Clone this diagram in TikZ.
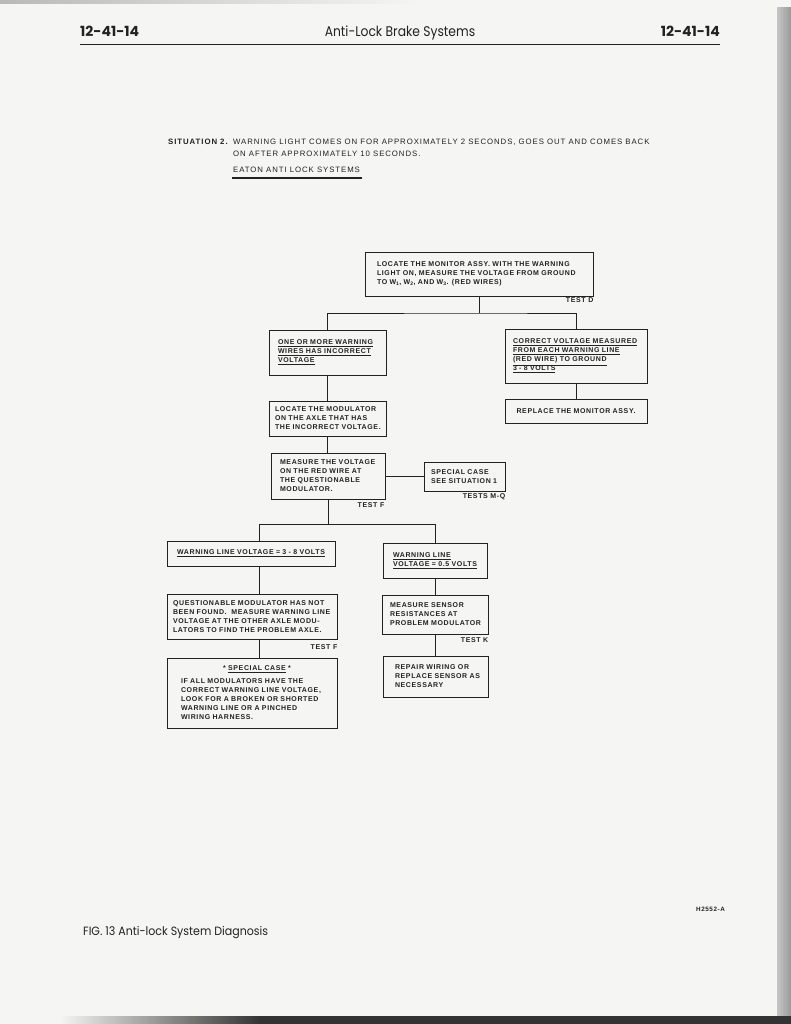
\documentclass[tikz,border=0pt]{standalone}
\usepackage{fontspec}
\setmainfont{Liberation Sans}
\newfontfamily\bxfont[LetterSpace=9]{Liberation Sans}
\newfontfamily\sitfont[LetterSpace=12]{Liberation Sans}
\newfontfamily\hdfont{Poppins}
\definecolor{ink}{RGB}{34,34,34}
\definecolor{pagebg}{RGB}{245,245,243}
\begin{document}
\begin{tikzpicture}[x=1pt,y=-1pt,
  bx/.style={draw=ink, line width=1pt, inner ysep=0pt, align=left, text=ink,
    font=\bxfont\bfseries\fontsize{7}{9}\selectfont},
  conn/.style={draw=ink, line width=1pt},
  tst/.style={anchor=north east, inner sep=0pt, text=ink, yshift=-2.5pt,
    font=\bxfont\bfseries\fontsize{7}{9}\selectfont},
  sit/.style={anchor=base west, inner sep=0pt, text=ink,
    font=\sitfont\fontsize{7.8}{12}\selectfont},
  hd/.style={inner sep=0pt, text=ink, font=\hdfont\bfseries\fontsize{14}{16}\selectfont},
]
\useasboundingbox (0,0) rectangle (791,1024);
% page and scan edges
\fill[pagebg] (0,0) rectangle (791,1024);
\shade[left color=gray!55, right color=pagebg] (0,0) rectangle (420,4);
\shade[left color=gray!45, right color=gray!80] (777,8) rectangle (791,1024);
\shade[left color=pagebg, right color=black!80] (60,1016) rectangle (260,1024);
\fill[black!80] (260,1016) rectangle (791,1024);

% header
\node[hd, anchor=base west] (hl) at (80,37) {12-41-14};
\node[hd, anchor=base, font=\hdfont\fontsize{14}{16}\selectfont] (ht) at (400,37)
  {\scalebox{0.88}[1]{Anti-Lock Brake Systems}};
\node[hd, anchor=base east] (hr) at (720,37) {12-41-14};
\draw[ink, line width=1.4pt] (hl.base west |- 0,44.5) -- (hr.base east |- 0,44.5);

% situation
\node[sit, font=\sitfont\bfseries\fontsize{7.8}{12}\selectfont] (s2) at (168,145) {SITUATION 2.};
\node[sit] (s2a) at (233,145) {WARNING LIGHT COMES ON FOR APPROXIMATELY 2 SECONDS, GOES OUT AND COMES BACK};
\node[sit] (s2b) at (233,157) {ON AFTER APPROXIMATELY 10 SECONDS.};
\node[sit] (eat) at (233,173) {EATON ANTI LOCK SYSTEMS};
\draw[ink, line width=1.1pt] ([xshift=-1pt,yshift=-5pt]eat.base west) -- ([xshift=2pt,yshift=-5pt]eat.base east);

% boxes
\node[bx, minimum width=228pt, minimum height=44pt, inner xsep=12pt, text width=204pt] (A) at (479,274)
  {\mbox{LOCATE THE MONITOR ASSY. WITH THE WARNING}\\\mbox{LIGHT ON, MEASURE THE VOLTAGE FROM GROUND}\\\mbox{TO W\textsubscript{1}, W\textsubscript{2}, AND W\textsubscript{3}. (RED WIRES)}};
\node[bx, minimum width=117pt, minimum height=45pt, inner xsep=9pt, text width=99pt] (B) at (327.5,352.5)
  {\underline{ONE OR MORE WARNING}\\\underline{WIRES HAS INCORRECT}\\\underline{VOLTAGE}};
\node[bx, minimum width=142pt, minimum height=54pt, inner xsep=8pt, text width=126pt] (C) at (576,356)
  {\underline{CORRECT VOLTAGE MEASURED}\\\underline{FROM EACH WARNING LINE}\\\underline{(RED WIRE) TO GROUND}\\\underline{3 - 8 VOLTS}};
\node[bx, align=center, minimum width=142pt, minimum height=24pt, inner xsep=4pt, text width=134pt] (D) at (576,411)
  {\mbox{REPLACE THE MONITOR ASSY.}};
\node[bx, minimum width=117pt, minimum height=35pt, inner xsep=6pt, text width=105pt] (E) at (327.5,418.5)
  {\mbox{LOCATE THE MODULATOR}\\\mbox{ON THE AXLE THAT HAS}\\\mbox{THE INCORRECT VOLTAGE.}};
\node[bx, minimum width=114pt, minimum height=46pt, inner xsep=9pt, text width=96pt] (F) at (328,476)
  {\mbox{MEASURE THE VOLTAGE}\\\mbox{ON THE RED WIRE AT}\\\mbox{THE QUESTIONABLE}\\\mbox{MODULATOR.}};
\node[bx, minimum width=81pt, minimum height=29pt, inner xsep=7pt, text width=67pt] (G) at (464.5,476.5)
  {\mbox{SPECIAL CASE}\\\mbox{SEE SITUATION 1}};
\node[bx, align=center, minimum width=168pt, minimum height=25pt, inner xsep=4pt, text width=160pt] (H) at (251,553.5)
  {\underline{WARNING LINE VOLTAGE = 3 - 8 VOLTS}};
\node[bx, minimum width=104pt, minimum height=35pt, inner xsep=10pt, text width=84pt] (I) at (435,560.5)
  {\underline{WARNING LINE}\\\underline{VOLTAGE = 0.5 VOLTS}};
\node[bx, minimum width=170pt, minimum height=45pt, inner xsep=6pt, text width=158pt] (J) at (252,616.5)
  {\mbox{QUESTIONABLE MODULATOR HAS NOT}\\\mbox{BEEN FOUND.\ \ MEASURE WARNING LINE}\\\mbox{VOLTAGE AT THE OTHER AXLE MODU-}\\\mbox{LATORS TO FIND THE PROBLEM AXLE.}};
\node[bx, minimum width=170pt, minimum height=70pt, inner xsep=14pt, text width=142pt] (K) at (252,693)
  {\makebox[142pt][c]{\hspace{10pt}* \underline{SPECIAL CASE} *}\\[4pt]\mbox{IF ALL MODULATORS HAVE THE}\\\mbox{CORRECT WARNING LINE VOLTAGE,}\\\mbox{LOOK FOR A BROKEN OR SHORTED}\\\mbox{WARNING LINE OR A PINCHED}\\\mbox{WIRING HARNESS.}};
\node[bx, minimum width=106pt, minimum height=39pt, inner xsep=8pt, text width=90pt] (L) at (435,614.5)
  {\mbox{MEASURE SENSOR}\\\mbox{RESISTANCES AT}\\\mbox{PROBLEM MODULATOR}};
\node[bx, minimum width=105pt, minimum height=41pt, inner xsep=12pt, text width=81pt] (M) at (435.5,676.5)
  {\mbox{REPAIR WIRING OR}\\\mbox{REPLACE SENSOR AS}\\\mbox{NECESSARY}};

% test labels
\node[tst, yshift=1.5pt] (tD) at (A.south east) {TEST D};
\node[tst] (tF1) at ([xshift=-1pt]F.south east) {TEST F};
\node[tst, yshift=1pt] (tMQ) at (G.south east) {TESTS M-Q};
\node[tst, yshift=-2pt] (tF2) at (J.south east) {TEST F};
\node[tst] (tK) at (L.south east) {TEST K};

% connectors
\coordinate (jA) at (479,313);
\coordinate (jF) at (328,524);
\coordinate (jH) at (259,524);
\coordinate (jI) at (435,524);
\draw[conn] (A.south) -- (jA);
\draw[conn] (B.north) |- (jA) -| (C.north);
\draw[conn] (C.south) -- (D.north);
\draw[conn] (B.south) -- (E.north);
\draw[conn] (E.south) -- (E.south |- F.north);
\draw[conn] (F.east) -- (F.east -| G.west);
\draw[conn] (F.south) -- (jF);
\draw[conn] (H.north -| jH) -- (jH) -- (jI) -- (I.north);
\draw[conn] (H.south -| jH) -- (J.north -| jH);
\draw[conn] (J.south -| jH) -- (K.north -| jH);
\draw[conn] (I.south) -- (L.north);
\draw[conn] (L.south) -- (L.south |- M.north);

% footer
\node[inner sep=0pt, anchor=base east, text=ink, font=\bxfont\bfseries\fontsize{6.3}{7}\selectfont] (fig) at (725,911) {H2552-A};
\node[inner sep=0pt, anchor=base west, text=ink, font=\hdfont\fontsize{12}{14}\selectfont] (cap) at (83,935)
  {\scalebox{0.92}[1]{FIG. 13 Anti-lock System Diagnosis}};
\end{tikzpicture}
\end{document}
